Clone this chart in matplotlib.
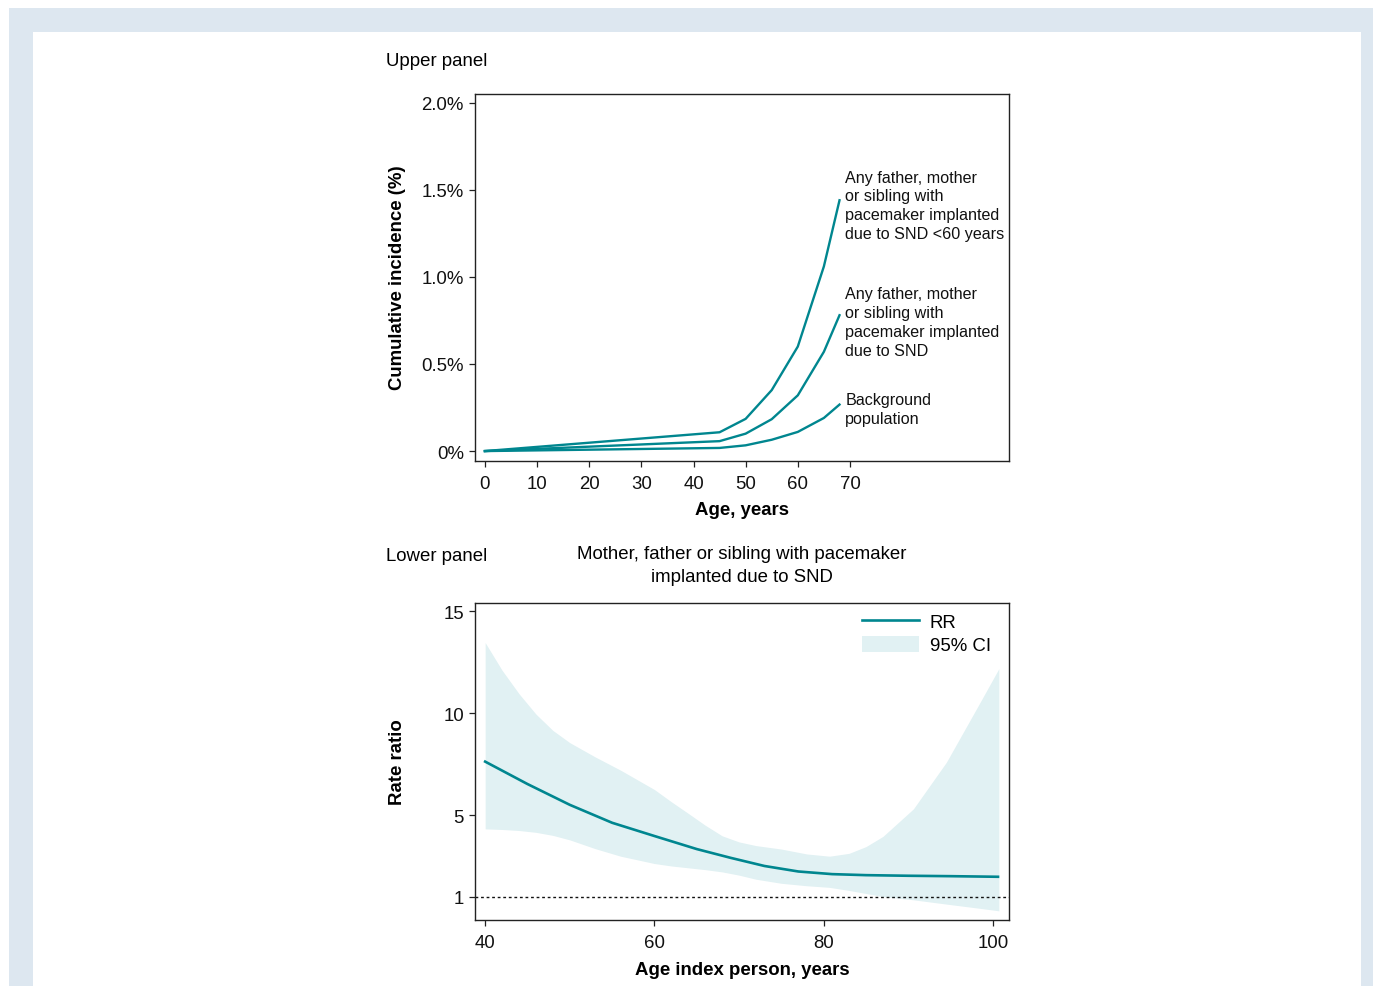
import matplotlib
matplotlib.use("Agg")
import matplotlib.pyplot as plt
from matplotlib.patches import Rectangle, Patch
from matplotlib.lines import Line2D

plt.rcParams['font.family'] = ['Liberation Sans', 'DejaVu Sans']

# ---------------- data ----------------
ages_upper = [0, 45, 50, 55, 60, 65, 68]
inc_lt60 = [0, 0.108, 0.185, 0.35, 0.60, 1.06, 1.44]
inc_snd = [0, 0.057, 0.10, 0.183, 0.32, 0.57, 0.78]
inc_bg = [0, 0.018, 0.033, 0.065, 0.11, 0.19, 0.267]
upper_xticks = [0, 10, 20, 30, 40, 50, 60, 70]
upper_yticks = [0, 0.5, 1.0, 1.5, 2.0]
upper_ytick_labels = ['0%', '0.5%', '1.0%', '1.5%', '2.0%']
label_lt60 = "Any father, mother\nor sibling with\npacemaker implanted\ndue to SND <60 years"
label_snd = "Any father, mother\nor sibling with\npacemaker implanted\ndue to SND"
label_bg = "Background\npopulation"

rr_age = [40, 45, 50, 55, 60, 65, 69, 73, 77, 81, 85, 90, 95, 100.6]
rr = [7.62, 6.52, 5.50, 4.62, 3.97, 3.33, 2.90, 2.50, 2.23, 2.10, 2.05, 2.02, 2.00, 1.97]
ci_age = [40, 42, 44, 46, 48, 50, 53, 56, 60, 62, 64, 66, 68, 70, 72, 75, 78, 80.7,
          83, 85, 87, 90.6, 94.5, 98.5, 100.7]
ci_hi = [13.46, 12.1, 10.95, 9.95, 9.15, 8.55, 7.85, 7.2, 6.25, 5.65, 5.08, 4.50, 3.98,
         3.68, 3.50, 3.33, 3.09, 2.98, 3.12, 3.45, 3.95, 5.30, 7.59, 10.54, 12.18]
ci_lo = [4.32, 4.29, 4.24, 4.15, 4.00, 3.78, 3.35, 2.98, 2.62, 2.50, 2.41, 2.32, 2.21,
         2.05, 1.85, 1.65, 1.53, 1.45, 1.30, 1.15, 1.00, 0.84, 0.63, 0.42, 0.30]
lower_xticks = [40, 60, 80, 100]
lower_yticks = [1, 5, 10, 15]

TEAL = '#00868f'
FILL = '#e1f1f3'
W, H = 1373, 987

fig = plt.figure(figsize=(W / 100, H / 100), dpi=100)
fig.patch.set_facecolor('white')

# frame
fig.patches.append(Rectangle((9 / W, 0), 1, 1 - 9 / H, transform=fig.transFigure,
                             facecolor='#dde7f0', edgecolor='none', zorder=-10))
fig.patches.append(Rectangle((33 / W, 0), (1361 - 33) / W, 1 - 33 / H, transform=fig.transFigure,
                             facecolor='white', edgecolor='none', zorder=-9))

FS = 13.4
ANN_FS = 11.6


def px_axes(l, t, r, b):
    return fig.add_axes([l / W, 1 - b / H, (r - l) / W, (b - t) / H])


def style(ax):
    for s in ax.spines.values():
        s.set_linewidth(1.0)
        s.set_color('#222222')
    ax.tick_params(direction='out', length=4, width=0.9, labelsize=FS, colors='#222222',
                   labelcolor='#111111')
    ax.tick_params(axis='y', pad=4)
    ax.tick_params(axis='x', pad=6)
    ax.set_facecolor('none')


# ---------------- upper panel ----------------
ax1 = px_axes(475, 95, 1009, 462)
ax1.plot(ages_upper, inc_lt60, color=TEAL, lw=1.7)
ax1.plot(ages_upper, inc_snd, color=TEAL, lw=1.7)
ax1.plot(ages_upper, inc_bg, color=TEAL, lw=1.7)
ax1.set_xlim(-1.9, 100.5)
ax1.set_ylim(-0.057, 2.05)
ax1.set_xticks(upper_xticks)
ax1.set_yticks(upper_yticks)
ax1.set_yticklabels(upper_ytick_labels)
style(ax1)
for yv, lab in [(1.41, label_lt60), (0.743, label_snd), (0.243, label_bg)]:
    ax1.text(69.1, yv, lab, fontsize=ANN_FS, va='center', ha='left',
             linespacing=1.33, color='#111111')

fig.text(398 / W, 1 - 278 / H, 'Cumulative incidence (%)', rotation=90, fontsize=FS,
         fontweight='bold', ha='center', va='center')
fig.text(742 / W, 1 - 511 / H, 'Age, years', fontsize=FS, fontweight='bold', ha='center', va='center')
fig.text(386 / W, 1 - 62 / H, 'Upper panel', fontsize=FS, ha='left', va='center')

# ---------------- lower panel ----------------
ax2 = px_axes(475, 604, 1009, 921)
ax2.fill_between(ci_age, ci_lo, ci_hi, color=FILL, lw=0)
ax2.plot(rr_age, rr, color=TEAL, lw=1.9)
ax2.axhline(1, color='#111111', lw=1.0, ls=(0, (2, 2)))
ax2.set_xlim(38.8, 101.9)
ax2.set_ylim(-0.15, 15.4)
ax2.set_xticks(lower_xticks)
ax2.set_yticks(lower_yticks)
style(ax2)
handles = [Line2D([], [], color=TEAL, lw=1.9), Patch(facecolor=FILL, edgecolor='none')]
ax2.legend(handles, ['RR', '95% CI'], loc='upper right', frameon=False, fontsize=FS,
           handlelength=3.06, handleheight=0.9, handletextpad=0.6, labelspacing=0.28,
           borderaxespad=0, borderpad=0.4,
           bbox_to_anchor=(1 - 10.5 / 534, 1 - 2.5 / 317))

fig.text(398 / W, 1 - 762 / H, 'Rate ratio', rotation=90, fontsize=FS,
         fontweight='bold', ha='center', va='center')
fig.text(742 / W, 1 - 971 / H, 'Age index person, years', fontsize=FS, fontweight='bold',
         ha='center', va='center')
fig.text(386 / W, 1 - 557 / H, 'Lower panel', fontsize=FS, ha='left', va='center')
fig.text(742 / W, 1 - 566 / H, 'Mother, father or sibling with pacemaker\nimplanted due to SND',
         fontsize=FS, ha='center', va='center', linespacing=1.5)

fig.savefig('out.png', dpi=100)
